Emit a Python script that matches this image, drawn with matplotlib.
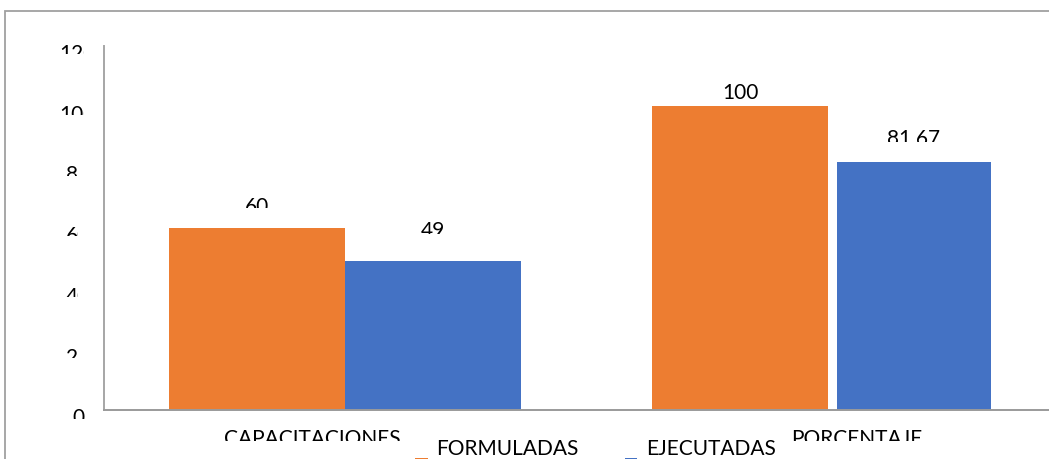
import matplotlib
matplotlib.use("Agg")
import matplotlib.pyplot as plt
from matplotlib.patches import Rectangle
from matplotlib.transforms import Bbox, ScaledTranslation
from matplotlib.legend_handler import HandlerPatch

# ---- data -------------------------------------------------------------
categories = ["CAPACITACIONES", "PORCENTAJE"]
series_names = ["FORMULADAS", "EJECUTADAS"]
formuladas = [60, 100]
ejecutadas = [49, 81.67]
y_ticks = [0, 20, 40, 60, 80, 100, 120]

# ---- style ------------------------------------------------------------
ORANGE = "#ED7D31"
BLUE = "#4472C4"
AXIS_GRAY = "#a6a6a6"
FRAME_GRAY = "#a0a0a0"
FS = 15.0

W, H, DPI = 1049, 460, 100
plt.rcParams["font.family"] = ["Lato", "DejaVu Sans"]

fig = plt.figure(figsize=(W / DPI, H / DPI), dpi=DPI)
fig.patch.set_facecolor("white")

ax = fig.add_axes([103.5 / W, 49 / H, 966 / W, 364.3 / H])
ax.set_xlim(-0.5, 1.5)
ax.set_ylim(0, 120)

group_x = list(range(len(categories)))
bar_w = 0.364
blue_gap = [0.0, 0.018]
blue_w = [0.364, 0.32]

orange_bars = ax.bar([g - bar_w for g in group_x], formuladas, width=bar_w,
                     align="edge", color=ORANGE, zorder=2)
blue_bars = ax.bar([g + d for g, d in zip(group_x, blue_gap)], ejecutadas,
                   width=blue_w, align="edge", color=BLUE, zorder=2)

for side in ("top", "right"):
    ax.spines[side].set_visible(False)
ax.spines["left"].set_color(AXIS_GRAY)
ax.spines["left"].set_linewidth(1.4)
ax.spines["bottom"].set_color("#9a9a9a")
ax.spines["bottom"].set_linewidth(1.4)

# y axis labels centred left of the spine
ax.set_yticks(y_ticks)
ax.set_yticklabels([str(t) for t in y_ticks])
ax.tick_params(axis="y", length=0, pad=18.4, labelsize=FS)
for lab in ax.get_yticklabels():
    lab.set_ha("center")
    lab.set_va("top")
    lab.set_transform(lab.get_transform() +
                      ScaledTranslation(0, 2 / 72, fig.dpi_scale_trans))

# category labels
label_shift = [-0.068, 0.06]
ax.set_xticks([g + s for g, s in zip(group_x, label_shift)])
ax.set_xticklabels(categories)
ax.tick_params(axis="x", length=0, pad=13.0, labelsize=FS)

# value labels above each bar
def fmt(v):
    return f"{v:g}".replace(".", ",")

value_texts = []
bars_in_order = [orange_bars[0], blue_bars[0], orange_bars[1], blue_bars[1]]
values_in_order = [formuladas[0], ejecutadas[0], formuladas[1], ejecutadas[1]]
gaps_px = [31, 40, 23, 34]
visible_px = [11, 13, 18, 14]
for bar, v, gap in zip(bars_in_order, values_in_order, gaps_px):
    xc = bar.get_x() + bar.get_width() / 2
    t = ax.annotate(fmt(v), xy=(xc, v), xytext=(0, (gap + 1) * 72 / DPI),
                    textcoords="offset points", ha="center", va="top",
                    fontsize=FS, color="black")
    value_texts.append((t, xc, v, gap))


# legend with swatches sitting below the text line
class LowSwatch(HandlerPatch):
    def create_artists(self, legend, orig_handle, xdescent, ydescent,
                       width, height, fontsize, trans):
        p = Rectangle((-xdescent + width - 9, -ydescent - 12), 9, 9,
                      facecolor=orig_handle.get_facecolor(),
                      edgecolor="none", transform=trans)
        return [p]


handles = [Rectangle((0, 0), 1, 1, facecolor=ORANGE),
           Rectangle((0, 0), 1, 1, facecolor=BLUE)]
leg = fig.legend(handles, series_names, ncol=2, frameon=False,
                 loc="upper left", bbox_to_anchor=(409 / W, 1 - 439 / H),
                 fontsize=FS, handlelength=0.9, handletextpad=0.4,
                 columnspacing=1.93, borderpad=0, borderaxespad=0,
                 handler_map={Rectangle: LowSwatch()})

# outer chart frame
fig.add_artist(Rectangle((5 / W, -0.1), 1.2, (H - 12) / H + 0.1,
                         transform=fig.transFigure, fill=False,
                         edgecolor=FRAME_GRAY, linewidth=1.3))

# ---- clip text to the visible strip of each line ----------------------
fig.canvas.draw()
renderer = fig.canvas.get_renderer()


def clip_to(text, x0, y0, x1, y1):
    text.set_clip_box(Bbox.from_extents(x0, y0, x1, y1))
    text.set_clip_on(True)


for lab, val in zip(ax.get_yticklabels(), y_ticks):
    bb = lab.get_window_extent(renderer)
    n = len(lab.get_text())
    right = bb.x0 + bb.width * (n - 1) / n if n > 1 else bb.x1 + 2
    ty = ax.transData.transform((0, val))[1]
    clip_to(lab, bb.x0 - 3, ty + 2 - 10.5, right, ty + 6)

for lab in ax.get_xticklabels():
    bb = lab.get_window_extent(renderer)
    axis_y = ax.transData.transform((0, 0))[1]
    clip_to(lab, bb.x0 - 3, axis_y - 30.5, bb.x1 + 3, axis_y - 10)

for idx, (t, xc, v, gap) in enumerate(value_texts):
    bb = t.get_window_extent(renderer)
    top = ax.transData.transform((xc, v))[1] + gap
    clip_to(t, bb.x0 - 3, top - visible_px[idx], bb.x1 + 3, top + 4)

fig.savefig("out.png", dpi=DPI, facecolor="white")
